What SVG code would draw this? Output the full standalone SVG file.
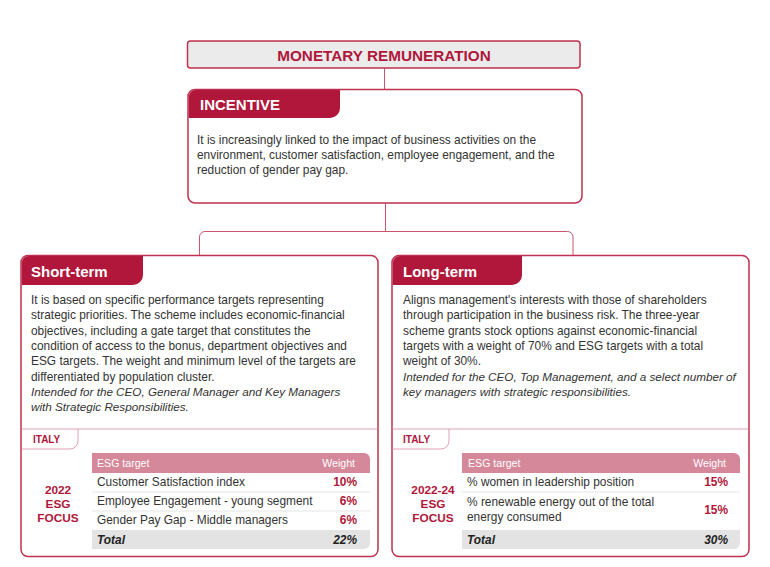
<svg xmlns="http://www.w3.org/2000/svg" width="770" height="567" viewBox="0 0 770 567">
<style>
.box{fill:#fff;stroke:#c0304f;stroke-width:1.5}
.tab{fill:#b0173a}
.conn{fill:none;stroke:#c9566e;stroke-width:1}
.ht{font-family:"Liberation Sans",Arial,sans-serif;font-weight:bold;font-size:15px;fill:#fff}
.body{font-family:"Liberation Sans",Arial,sans-serif;font-size:11.9px;fill:#333}
.it{font-style:italic;font-size:11.7px}
.sep{stroke:#e2a3b2;stroke-width:1;fill:none}
.row{stroke:#e6e6e6;stroke-width:1}
.th{font-family:"Liberation Sans",Arial,sans-serif;font-size:10.6px;fill:#fff}
.td{font-family:"Liberation Sans",Arial,sans-serif;font-size:11.9px;fill:#333}
.tv{font-family:"Liberation Sans",Arial,sans-serif;font-size:11.9px;font-weight:bold;fill:#b0173a}
.tot{font-family:"Liberation Sans",Arial,sans-serif;font-size:11.9px;font-weight:bold;font-style:italic;fill:#222}
.focus{font-family:"Liberation Sans",Arial,sans-serif;font-size:11.8px;font-weight:bold;fill:#b0173a}
.italy{font-family:"Liberation Sans",Arial,sans-serif;font-size:10px;font-weight:bold;fill:#b0173a}
</style>
<g id="connectors">
<line class="conn" x1="384.5" y1="68" x2="384.5" y2="89"/>
<path class="conn" d="M385.5,203 V231.5 M199.5,255 V237 a5.5,5.5 0 0 1 5.5,-5.5 H567.5 a5.5,5.5 0 0 1 5.5,5.5 V255"/>
</g>
<g id="monetary-remuneration">
<rect x="187.5" y="41" width="392.5" height="27" rx="3" fill="#ebebeb" stroke="#c0304f" stroke-width="1.5"/>
<text x="384" y="60.5" text-anchor="middle" font-family="Liberation Sans,Arial,sans-serif" font-weight="bold" font-size="15.3" fill="#b0173a">MONETARY REMUNERATION</text>
</g>
<g id="incentive">
<rect class="box" x="188" y="89.5" width="394" height="113.5" rx="7"/>
<path class="tab" d="M188.75,118 V97 a7,7 0 0 1 7,-7 H340 V108 a10,10 0 0 1 -10,10 Z"/>
<text class="ht" x="200" y="109.5">INCENTIVE</text>
<text class="body" x="197"><tspan x="197" y="144">It is increasingly linked to the impact of business activities on the</tspan><tspan x="197" y="159">environment, customer satisfaction, employee engagement, and  the</tspan><tspan x="197" y="174">reduction of gender pay gap.</tspan></text>
</g>
<g id="short-term">
<rect class="box" x="21" y="255.5" width="357" height="301" rx="7"/>
<path class="tab" d="M21.75,285 V263 a7,7 0 0 1 7,-7 H143 V275 a10,10 0 0 1 -10,10 Z"/>
<text class="ht" x="31" y="276.5">Short-term</text>
<text class="body"><tspan x="31" y="304">It is based on specific performance targets representing</tspan><tspan x="31" y="319">strategic priorities. The scheme includes economic-financial</tspan><tspan x="31" y="334.5">objectives, including a gate target that constitutes the</tspan><tspan x="31" y="350">condition of access to the bonus, department objectives and</tspan><tspan x="31" y="365">ESG targets. The weight and minimum level of the targets are</tspan><tspan x="31" y="380.5">differentiated by population cluster.</tspan><tspan class="it" x="31" y="395.5">Intended for the CEO, General Manager and Key Managers</tspan><tspan class="it" x="31" y="411">with Strategic Responsibilities.</tspan></text>
<line class="sep" x1="21.75" y1="429" x2="377.25" y2="429"/>
<path class="sep" d="M21.75,449 H70 a8,8 0 0 0 8,-8 V429"/>
<text class="italy" x="33" y="443">ITALY</text>
<text class="focus" text-anchor="middle"><tspan x="58" y="494">2022</tspan><tspan x="58" y="508">ESG</tspan><tspan x="58" y="522">FOCUS</tspan></text>
<path d="M92,453 H364 a6,6 0 0 1 6,6 V473 H92 Z" fill="#d5889a"/>
<text class="th" x="97" y="467">ESG target</text>
<text class="th" x="355" y="467" text-anchor="end">Weight</text>
<line class="row" x1="92" y1="492" x2="370" y2="492"/>
<line class="row" x1="92" y1="511" x2="370" y2="511"/>
<text class="td" x="97" y="486">Customer Satisfaction index</text>
<text class="tv" x="357" y="486" text-anchor="end">10%</text>
<text class="td" x="97" y="505">Employee Engagement - young segment</text>
<text class="tv" x="357" y="505" text-anchor="end">6%</text>
<text class="td" x="97" y="524">Gender Pay Gap - Middle managers</text>
<text class="tv" x="357" y="524" text-anchor="end">6%</text>
<path d="M92,530 H370 V543 a6,6 0 0 1 -6,6 H92 Z" fill="#e3e3e3"/>
<text class="tot" x="97" y="544">Total</text>
<text class="tot" x="357" y="544" text-anchor="end">22%</text>
</g>
<g id="long-term">
<rect class="box" x="392" y="255.5" width="357" height="301" rx="7"/>
<path class="tab" d="M392.75,285 V263 a7,7 0 0 1 7,-7 H522 V275 a10,10 0 0 1 -10,10 Z"/>
<text class="ht" x="403" y="276.5">Long-term</text>
<text class="body"><tspan x="403" y="304">Aligns management's interests with those of shareholders</tspan><tspan x="403" y="319">through participation in the business risk. The three-year</tspan><tspan x="403" y="334.5">scheme grants stock options against economic-financial</tspan><tspan x="403" y="350">targets with a weight of 70% and ESG targets with a total</tspan><tspan x="403" y="365">weight of 30%.</tspan><tspan class="it" x="403" y="380.5">Intended for the CEO, Top Management, and a select number of</tspan><tspan class="it" x="403" y="395.5">key managers with strategic responsibilities.</tspan></text>
<line class="sep" x1="392.75" y1="429" x2="748.25" y2="429"/>
<path class="sep" d="M392.75,449 H441 a8,8 0 0 0 8,-8 V429"/>
<text class="italy" x="403" y="443">ITALY</text>
<text class="focus" text-anchor="middle"><tspan x="433" y="494">2022-24</tspan><tspan x="433" y="508">ESG</tspan><tspan x="433" y="522">FOCUS</tspan></text>
<path d="M462,453 H734 a6,6 0 0 1 6,6 V473 H462 Z" fill="#d5889a"/>
<text class="th" x="468" y="467">ESG target</text>
<text class="th" x="726" y="467" text-anchor="end">Weight</text>
<line class="row" x1="462" y1="492" x2="740" y2="492"/>
<text class="td" x="467" y="486">% women in leadership position</text>
<text class="tv" x="728" y="486" text-anchor="end">15%</text>
<text class="td"><tspan x="467" y="506">% renewable energy out of the total</tspan><tspan x="467" y="521">energy consumed</tspan></text>
<text class="tv" x="728" y="514" text-anchor="end">15%</text>
<path d="M462,530 H740 V543 a6,6 0 0 1 -6,6 H462 Z" fill="#e3e3e3"/>
<text class="tot" x="467" y="544">Total</text>
<text class="tot" x="728" y="544" text-anchor="end">30%</text>
</g>
</svg>
